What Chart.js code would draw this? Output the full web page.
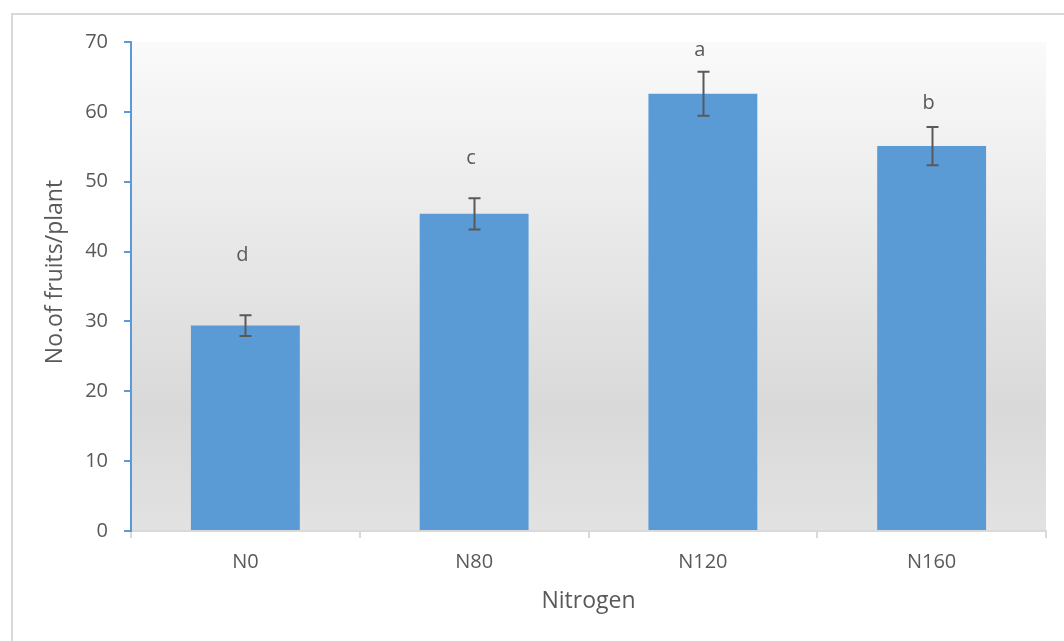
<!DOCTYPE html>
<html>
<head>
<meta charset="utf-8">
<script src="https://cdn.jsdelivr.net/npm/chart.js@4"></script>
<style>
  html, body { margin: 0; padding: 0; background: #fff; }
  #wrap { width: 1064px; height: 641px; position: relative; }
</style>
</head>
<body>
<div id="wrap"><canvas id="fruitChart"></canvas></div>
<script>
const categories = ["N0", "N80", "N120", "N160"];
const fruitsPerPlant = [29.4, 45.4, 62.6, 55.1];
const errorValues = [1.5, 2.25, 3.15, 2.75];
const groupLetters = ["d", "c", "a", "b"];
const letterLevels = [38.7, 52.5, 68.0, 60.4];
const yTicks = [0, 10, 20, 30, 40, 50, 60, 70];

const textColor = "#595959";
const fontFamily = "'Open Sans', 'Noto Sans', sans-serif";

// fond degrade + cadre exterieur
const backdrop = {
  id: "backdrop",
  beforeDraw(chart) {
    const { ctx, chartArea: a } = chart;
    ctx.save();
    ctx.fillStyle = "#fff";
    ctx.fillRect(0, 0, chart.width, chart.height);
    ctx.strokeStyle = "#d9d9d9";
    ctx.lineWidth = 2;
    ctx.strokeRect(12, 14, chart.width + 20, chart.height + 20);
    const g = ctx.createLinearGradient(0, a.top, 0, a.bottom);
    g.addColorStop(0, "#fafafa");
    g.addColorStop(0.75, "#d9d9d9");
    g.addColorStop(1, "#e2e2e2");
    ctx.fillStyle = g;
    ctx.fillRect(a.left, a.top, a.right - a.left, a.bottom - a.top);
    ctx.restore();
  },
};

// barres d'erreur, lettres et titres des axes
const annotations = {
  id: "annotations",
  afterDatasetsDraw(chart) {
    const { ctx, scales } = chart;
    const x = scales.x, y = scales.y;
    ctx.save();
    ctx.strokeStyle = "#595959";
    ctx.lineWidth = 2;
    fruitsPerPlant.forEach((v, i) => {
      const cx = Math.round(x.getPixelForValue(i)) + 0.5;
      const top = y.getPixelForValue(v + errorValues[i]);
      const bot = y.getPixelForValue(v - errorValues[i]);
      ctx.beginPath();
      ctx.moveTo(cx, top); ctx.lineTo(cx, bot);
      ctx.moveTo(cx - 6, top); ctx.lineTo(cx + 6, top);
      ctx.moveTo(cx - 6, bot); ctx.lineTo(cx + 6, bot);
      ctx.stroke();
    });
    ctx.fillStyle = textColor;
    ctx.font = "20px " + fontFamily;
    ctx.textAlign = "center";
    ctx.textBaseline = "alphabetic";
    groupLetters.forEach((t, i) => {
      ctx.fillText(t, x.getPixelForValue(i) - 3, y.getPixelForValue(letterLevels[i]));
    });
    ctx.font = "23px " + fontFamily;
    ctx.textBaseline = "middle";
    ctx.fillText("Nitrogen", (chart.chartArea.left + chart.chartArea.right) / 2, 601);
    ctx.translate(55, 272);
    ctx.rotate(-Math.PI / 2);
    ctx.fillText("No.of fruits/plant", 0, 0);
    ctx.restore();
  },
};

new Chart(document.getElementById("fruitChart"), {
  type: "bar",
  data: {
    labels: categories,
    datasets: [
      {
        data: fruitsPerPlant,
        backgroundColor: "#5b9bd5",
        borderWidth: 0,
        categoryPercentage: 1,
        barPercentage: 0.476,
      },
    ],
  },
  options: {
    responsive: true,
    maintainAspectRatio: false,
    animation: false,
    layout: { padding: { top: 42, right: 18, left: 0, bottom: 0 } },
    plugins: { legend: { display: false }, tooltip: { enabled: false } },
    scales: {
      x: {
        afterFit: (s) => { s.height = 110; },
        grid: {
          offset: true,
          drawOnChartArea: false,
          tickLength: 7,
          color: "#d9d9d9",
          lineWidth: 2,
        },
        border: { color: "#d9d9d9", width: 2 },
        ticks: { color: textColor, font: { family: fontFamily, size: 20 }, padding: 12 },
      },
      y: {
        min: 0,
        max: 70,
        afterFit: (s) => { s.width = 131; },
        afterBuildTicks: (s) => { s.ticks = yTicks.map((v) => ({ value: v })); },
        grid: {
          drawOnChartArea: false,
          tickLength: 7,
          color: "#5b9bd5",
          lineWidth: 2,
        },
        border: { color: "#5b9bd5", width: 2 },
        ticks: { color: textColor, font: { family: fontFamily, size: 20 }, padding: 16 },
      },
    },
  },
  plugins: [backdrop, annotations],
});
</script>
</body>
</html>
